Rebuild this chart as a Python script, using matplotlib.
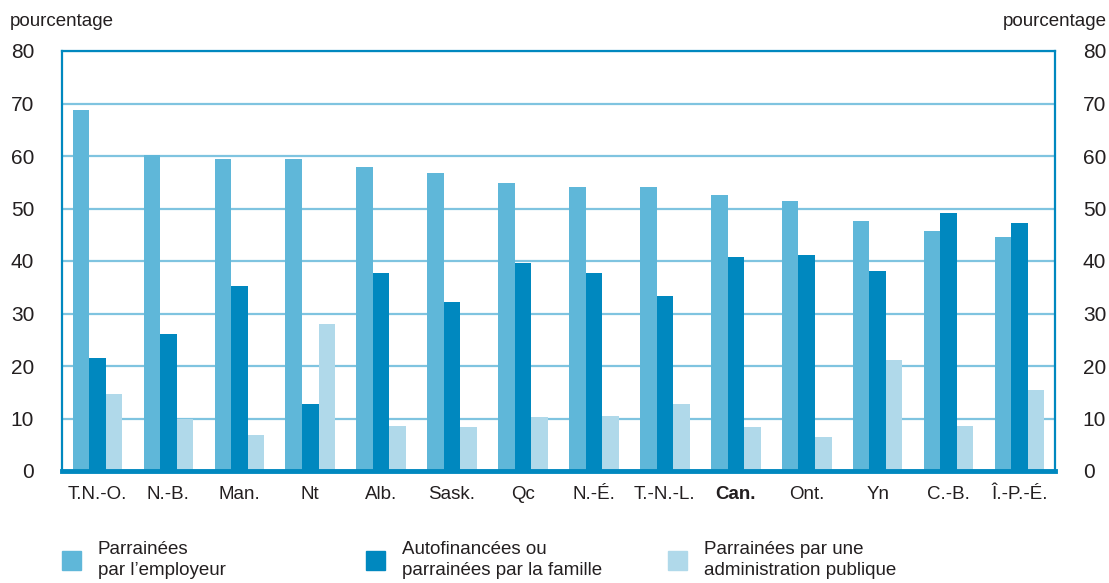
import numpy as np
import matplotlib
matplotlib.use('Agg')
import matplotlib.pyplot as plt
from matplotlib.patches import Patch

plt.rcParams['font.family'] = ['Liberation Sans', 'DejaVu Sans']

categories = ['T.N.-O.', 'N.-B.', 'Man.', 'Nt', 'Alb.', 'Sask.', 'Qc', 'N.-É.',
              'T.-N.-L.', 'Can.', 'Ont.', 'Yn', 'C.-B.', 'Î.-P.-É.']
employeur = [68.8, 60.2, 59.5, 59.5, 57.9, 56.8, 54.9, 54.1, 54.1, 52.6, 51.4, 47.6, 45.7, 44.6]
famille = [21.5, 26.1, 35.2, 12.8, 37.7, 32.2, 39.6, 37.7, 33.3, 40.8, 41.1, 38.1, 49.1, 47.2]
public = [14.7, 9.9, 6.9, 28.0, 8.6, 8.4, 10.3, 10.5, 12.8, 8.4, 6.5, 21.1, 8.6, 15.4]
yticks = [0, 10, 20, 30, 40, 50, 60, 70, 80]
labels = ['Parrainées\npar l\u2019employeur',
          'Autofinancées ou\nparrainées par la famille',
          'Parrainées par une\nadministration publique']

c_emp = '#5fb7d9'
c_fam = '#0088bf'
c_pub = '#b0d9ea'
c_axis = '#0088bf'
c_grid = '#7fc4e0'
c_text = '#231f20'

fig = plt.figure(figsize=(11.09, 5.83), dpi=100)
ax = fig.add_axes([62 / 1109, 112 / 583, 993 / 1109, 420 / 583])

x = np.arange(len(categories))
w = 0.233
ax.bar(x - w, employeur, w, color=c_emp, zorder=3)
ax.bar(x, famille, w, color=c_fam, zorder=3)
ax.bar(x + w, public, w, color=c_pub, zorder=3)

ax.set_xlim(-0.5, len(categories) - 0.5)
ax.set_ylim(0, 80)
ax.set_yticks(yticks)
ax.set_xticks(x)
ax.set_xticklabels(categories)
for lab in ax.get_xticklabels():
    if lab.get_text() == 'Can.':
        lab.set_fontweight('bold')

ax.grid(axis='y', color=c_grid, linewidth=1.6, zorder=0)
ax.tick_params(axis='x', length=0, pad=11, labelsize=13.5, labelcolor=c_text)
ax.tick_params(axis='y', length=0, pad=20, labelsize=15, labelcolor=c_text,
               labelright=True)

for side in ['left', 'right', 'top']:
    ax.spines[side].set_color(c_axis)
    ax.spines[side].set_linewidth(1.6)
ax.spines['bottom'].set_color(c_axis)
ax.spines['bottom'].set_linewidth(3.5)
ax.spines['bottom'].set_zorder(4)

fig.text(10 / 1109, 1 - 22 / 583, 'pourcentage', fontsize=13.5, color=c_text,
         ha='left', va='center')
fig.text(1 - 2 / 1109, 1 - 22 / 583, 'pourcentage', fontsize=13.5, color=c_text,
         ha='right', va='center')

colors = [c_emp, c_fam, c_pub]
xs = [62, 366, 668]
for lab, col, xp in zip(labels, colors, xs):
    leg = fig.legend(handles=[Patch(color=col, label=lab)],
                     loc='center left', bbox_to_anchor=(xp / 1109, 1 - 560 / 583),
                     frameon=False, fontsize=13.5, handlelength=1.0, handleheight=1.2,
                     handletextpad=0.9, labelcolor=c_text, borderpad=0,
                     borderaxespad=0)
    for t in leg.get_texts():
        t.set_linespacing(1.3)

fig.savefig('out.png', dpi=100)
